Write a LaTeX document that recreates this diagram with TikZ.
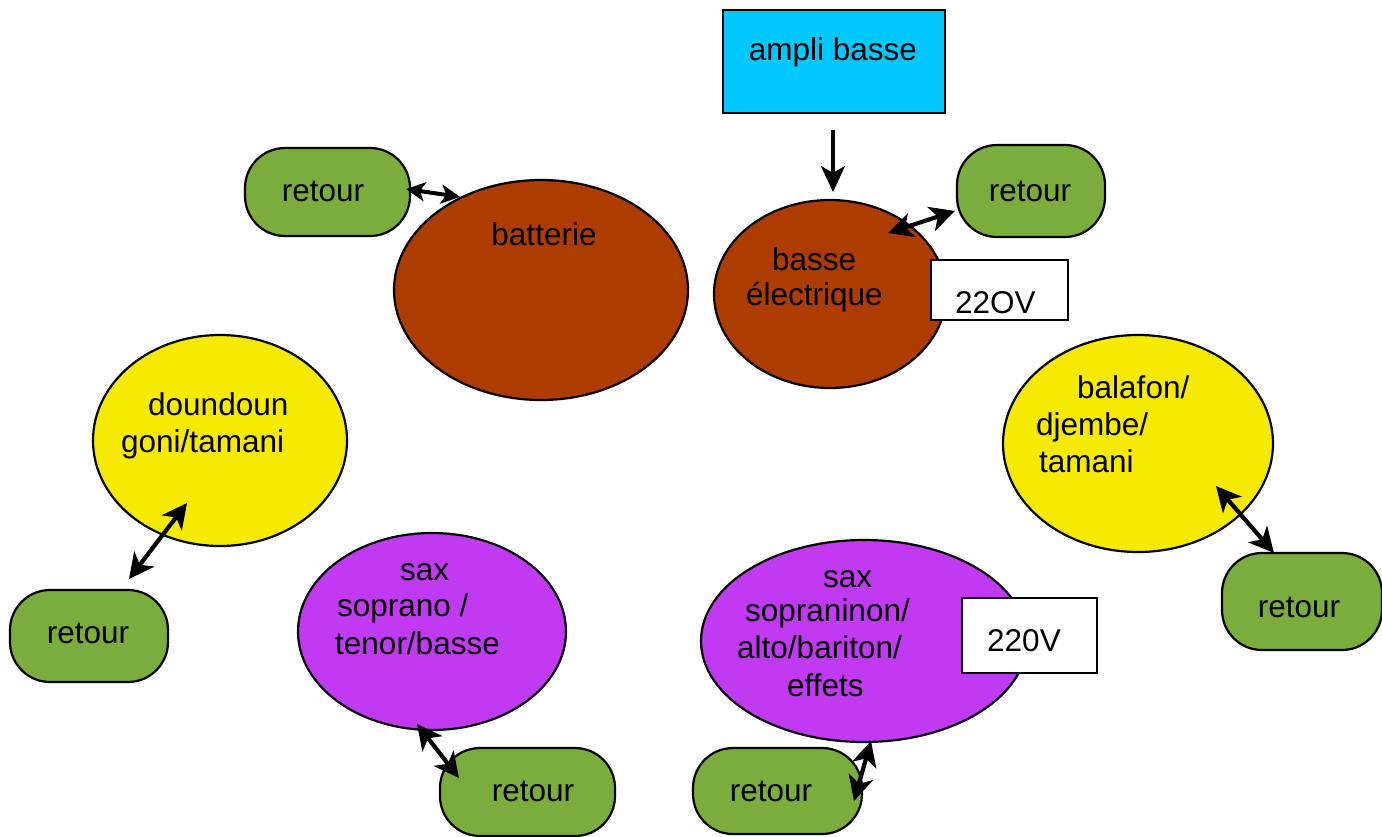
\documentclass[tikz,border=0pt]{standalone}
\usepackage{fontspec}
\setmainfont{Liberation Sans}
\usetikzlibrary{arrows.meta,shapes.geometric}
\definecolor{cyanbox}{HTML}{00C8FF}
\definecolor{brownell}{HTML}{AD3C00}
\definecolor{yellowell}{HTML}{F5EA00}
\definecolor{purpleell}{HTML}{BF3AF0}
\definecolor{greenbox}{HTML}{7AAD3C}
\tikzset{
  txt/.style={inner sep=0pt,font=\fontsize{31.5}{37}\selectfont},
  lt/.style={txt,anchor=base west},
  retourbox/.style={draw,line width=2.2pt,fill=greenbox,rounded corners=40pt,minimum height=88pt,inner sep=0pt},
  ell/.style={draw,line width=2.2pt,ellipse,inner sep=0pt},
  plainbox/.style={draw,line width=2.2pt,fill=white,inner sep=0pt},
  dbl/.style={line width=4.2pt,{Stealth[length=25pt,width=25pt,inset=7pt]}-{Stealth[length=25pt,width=25pt,inset=7pt]}},
  dblsmall/.style={line width=4pt,{Stealth[length=19pt,width=19pt,inset=5pt]}-{Stealth[length=19pt,width=19pt,inset=5pt]}},
  sgl/.style={line width=4pt,-{Stealth[length=26pt,width=24pt,inset=7pt]}}
}
\begin{document}
\begin{tikzpicture}[x=1pt,y=-1pt]
\useasboundingbox (0,0) rectangle (1382,836);
% boxes
\node[draw,line width=2.2pt,fill=cyanbox,minimum width=222pt,minimum height=103pt,inner sep=0pt] (ampli) at (834,61.5) {};
\node[txt] (amplit) at (833,52) {ampli basse};
% retours
\node[retourbox,minimum width=165pt] (rtl) at (327.5,192) {};
\node[txt] (rtlt) at (323,191) {retour};
\node[retourbox,minimum width=148pt,minimum height=92pt] (rtr) at (1031,191) {};
\node[txt] (rtrt) at (1030,191) {retour};
\node[retourbox,minimum width=158pt,minimum height=92pt] (rl) at (89,636) {};
\node[txt] (rlt) at (88,633) {retour};
\node[retourbox,minimum width=160pt,minimum height=97pt] (rr) at (1302,601.5) {};
\node[txt] (rrt) at (1299,607) {retour};
\node[retourbox,minimum width=175pt,minimum height=88pt] (rbm) at (527.5,792) {};
\node[txt] (rbmt) at (533,791) {retour};
\node[retourbox,minimum width=169pt,minimum height=86pt] (rbr) at (777.5,791) {};
\node[txt] (rbrt) at (771,791) {retour};
% ellipses
\node[ell,fill=brownell,minimum width=294pt,minimum height=220pt] (bat) at (541,290) {};
\node[txt] (batt) at (544,234) {batterie};
\node[ell,fill=brownell,minimum width=232pt,minimum height=188pt] (basse) at (830,294) {};
\node[lt] (basset1) at (772,270) {basse};
\node[lt] (basset2) at (746,305) {électrique};
\node[plainbox,minimum width=137pt,minimum height=60pt] (v1) at (999.5,290) {};
\node[lt] (v1t) at (955,313) {22OV};
\node[ell,fill=yellowell,minimum width=254pt,minimum height=211pt] (doun) at (220,440.5) {};
\node[lt] (dount1) at (148,415) {doundoun};
\node[lt] (dount2) at (121,452) {goni/tamani};
\node[ell,fill=yellowell,minimum width=270pt,minimum height=217pt] (bala) at (1138,443.5) {};
\node[lt] (balat1) at (1077,398) {balafon/};
\node[lt] (balat2) at (1036,435) {djembe/};
\node[lt] (balat3) at (1039,472) {tamani};
\node[ell,fill=purpleell,minimum width=268pt,minimum height=197pt] (sax1) at (432,631.5) {};
\node[lt] (sax1t1) at (400,580) {sax};
\node[lt] (sax1t2) at (337,616) {soprano /};
\node[lt] (sax1t3) at (335,654) {tenor/basse};
\node[ell,fill=purpleell,minimum width=326pt,minimum height=202pt] (sax2) at (864,641) {};
\node[lt] (sax2t1) at (823,587) {sax};
\node[lt] (sax2t2) at (745,621) {sopraninon/};
\node[lt] (sax2t3) at (737,658) {alto/bariton/};
\node[lt] (sax2t4) at (787,696) {effets};
\node[plainbox,minimum width=135pt,minimum height=75pt] (v2) at (1029.5,635.5) {};
\node[lt] (v2t) at (987,651) {220V};
% connector end points
\coordinate (a1s) at (833,130);
\coordinate (a1e) at (833,192);
\coordinate (c2a) at (406,189);
\coordinate (c3a) at (888,233);
\coordinate (c3b) at (955,211);
\coordinate (c4a) at (187,503);
\coordinate (c4b) at (129,579);
\coordinate (c5a) at (1216,486);
\coordinate (c5b) at (1274,553);
\coordinate (c6a) at (417,724);
\coordinate (c6b) at (459,778);
\coordinate (c7a) at (871,741);
\coordinate (c7b) at (854,801);
% connectors
\draw[sgl] (a1s) -- (a1e);
\draw[dblsmall] (c2a) -- (bat.131);
\draw[dbl] (c3a) -- (c3b);
\draw[dbl] (c4a) -- (c4b);
\draw[dbl] (c5a) -- (c5b);
\draw[dbl] (c6a) -- (c6b);
\draw[dbl] (c7a) -- (c7b);
\end{tikzpicture}
\end{document}
